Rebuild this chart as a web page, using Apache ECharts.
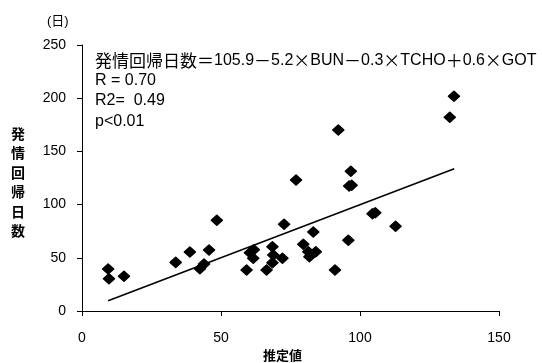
<!DOCTYPE html>
<html>
<head>
<meta charset="utf-8">
<script src="https://cdn.jsdelivr.net/npm/echarts@6/dist/echarts.min.js"></script>
<style>
  html, body { margin: 0; padding: 0; background: #fff; }
  #chart { width: 542px; height: 363px; }
</style>
</head>
<body>
<div id="chart"></div>
<script>
// 推定値 (x) と 発情回帰日数 (y)
var estimated = [9.4, 9.7, 15.1, 33.7, 38.8, 42.4, 43.9, 45.7, 48.5, 59.2, 60.4, 61.8, 61.6, 66.4,
  68.5, 68.8, 68.5, 72.1, 72.7, 77.0, 79.6, 83.2, 81.4, 81.8, 84.1, 91.0, 95.8, 92.2,
  96.7, 96.1, 97.0, 104.5, 105.5, 112.8, 132.3, 133.8];
var actualDays = [39.5, 30.4, 32.6, 45.7, 55.5, 39.8, 44.2, 57.3, 85.2, 38.5, 54.8, 57.6, 49.5, 38.5,
  60.4, 52.6, 45.4, 49.5, 81.5, 123.1, 62.7, 74.2, 55.7, 51, 55.7, 38.5, 66.4, 170.1,
  131.3, 117.5, 118.1, 91.5, 92.4, 79.6, 182, 201.8];
// 回帰直線の両端
var lineX = [9.4, 133.9];
var lineY = [9.7, 133.7];
var xTicks = [0, 50, 100, 150];
var yTicks = [0, 50, 100, 150, 200, 250];
// 回帰式 (c = 全角, l = 英数字)
var formulaParts = [
  ['c', '発情回帰日数＝'], ['l', '105.9'], ['c', '－'], ['l', '5.2'], ['c', '×'], ['l', 'BUN'],
  ['c', '－'], ['l', '0.3'], ['c', '×'], ['l', 'TCHO'], ['c', '＋'], ['l', '0.6'], ['c', '×'], ['l', 'GOT']
];
var statLines = ['R = 0.70', 'R2=  0.49', 'p<0.01'];

var FONT = '"Liberation Sans", Arial, "Noto Sans CJK JP", sans-serif';
var CJK = '"Noto Sans CJK JP", sans-serif';

var points = estimated.map(function (x, i) { return [x, actualDays[i]]; });
var linePts = lineX.map(function (x, i) { return [x, lineY[i]]; });

var noteText = formulaParts.map(function (p) { return '{' + p[0] + '|' + p[1] + '}'; }).join('') +
  '\n' + statLines.map(function (s) { return '{l|' + s + '}'; }).join('\n');

var chart = echarts.init(document.getElementById('chart'));
chart.setOption({
  animation: false,
  grid: { left: 82, right: 43, top: 45, bottom: 52 },
  xAxis: {
    type: 'value',
    min: xTicks[0],
    max: xTicks[xTicks.length - 1],
    interval: 50,
    splitLine: { show: false },
    axisLine: { lineStyle: { color: '#000', width: 1 } },
    axisTick: { show: true, length: 5, lineStyle: { color: '#000' } },
    axisLabel: { color: '#000', fontSize: 14, fontFamily: FONT, margin: 20 }
  },
  yAxis: {
    type: 'value',
    min: yTicks[0],
    max: yTicks[yTicks.length - 1],
    interval: 50,
    splitLine: { show: false },
    axisLine: { show: true, lineStyle: { color: '#000', width: 1 } },
    axisTick: { show: true, length: 5, lineStyle: { color: '#000' } },
    axisLabel: { color: '#000', fontSize: 14, fontFamily: FONT, margin: 16 }
  },
  graphic: [
    {
      type: 'text', left: 47, top: 15,
      style: { text: '(日)', fill: '#000', font: '13px ' + FONT }
    },
    {
      type: 'text', left: 11, top: 125,
      style: { text: '発\n情\n回\n帰\n日\n数', fill: '#000', font: 'bold 14px ' + FONT, lineHeight: 19.5 }
    },
    {
      type: 'text', left: 263, top: 350,
      style: { text: '推定値', fill: '#000', font: 'bold 13px ' + FONT }
    },
    {
      type: 'text', left: 95, top: 52,
      style: {
        text: noteText,
        fill: '#000',
        rich: {
          c: { fontFamily: CJK, fontSize: 17, lineHeight: 20.2, fill: '#000' },
          l: { fontFamily: FONT, fontSize: 16, lineHeight: 20.2, fill: '#000' }
        }
      }
    }
  ],
  series: [
    {
      type: 'scatter',
      data: points,
      symbol: 'diamond',
      symbolSize: [11, 10],
      itemStyle: { color: '#000', opacity: 1, borderColor: '#000', borderWidth: 1.5, borderJoin: 'round' }
    },
    {
      type: 'line',
      data: linePts,
      symbol: 'none',
      lineStyle: { color: '#000', width: 1.5 }
    }
  ]
});
</script>
</body>
</html>
